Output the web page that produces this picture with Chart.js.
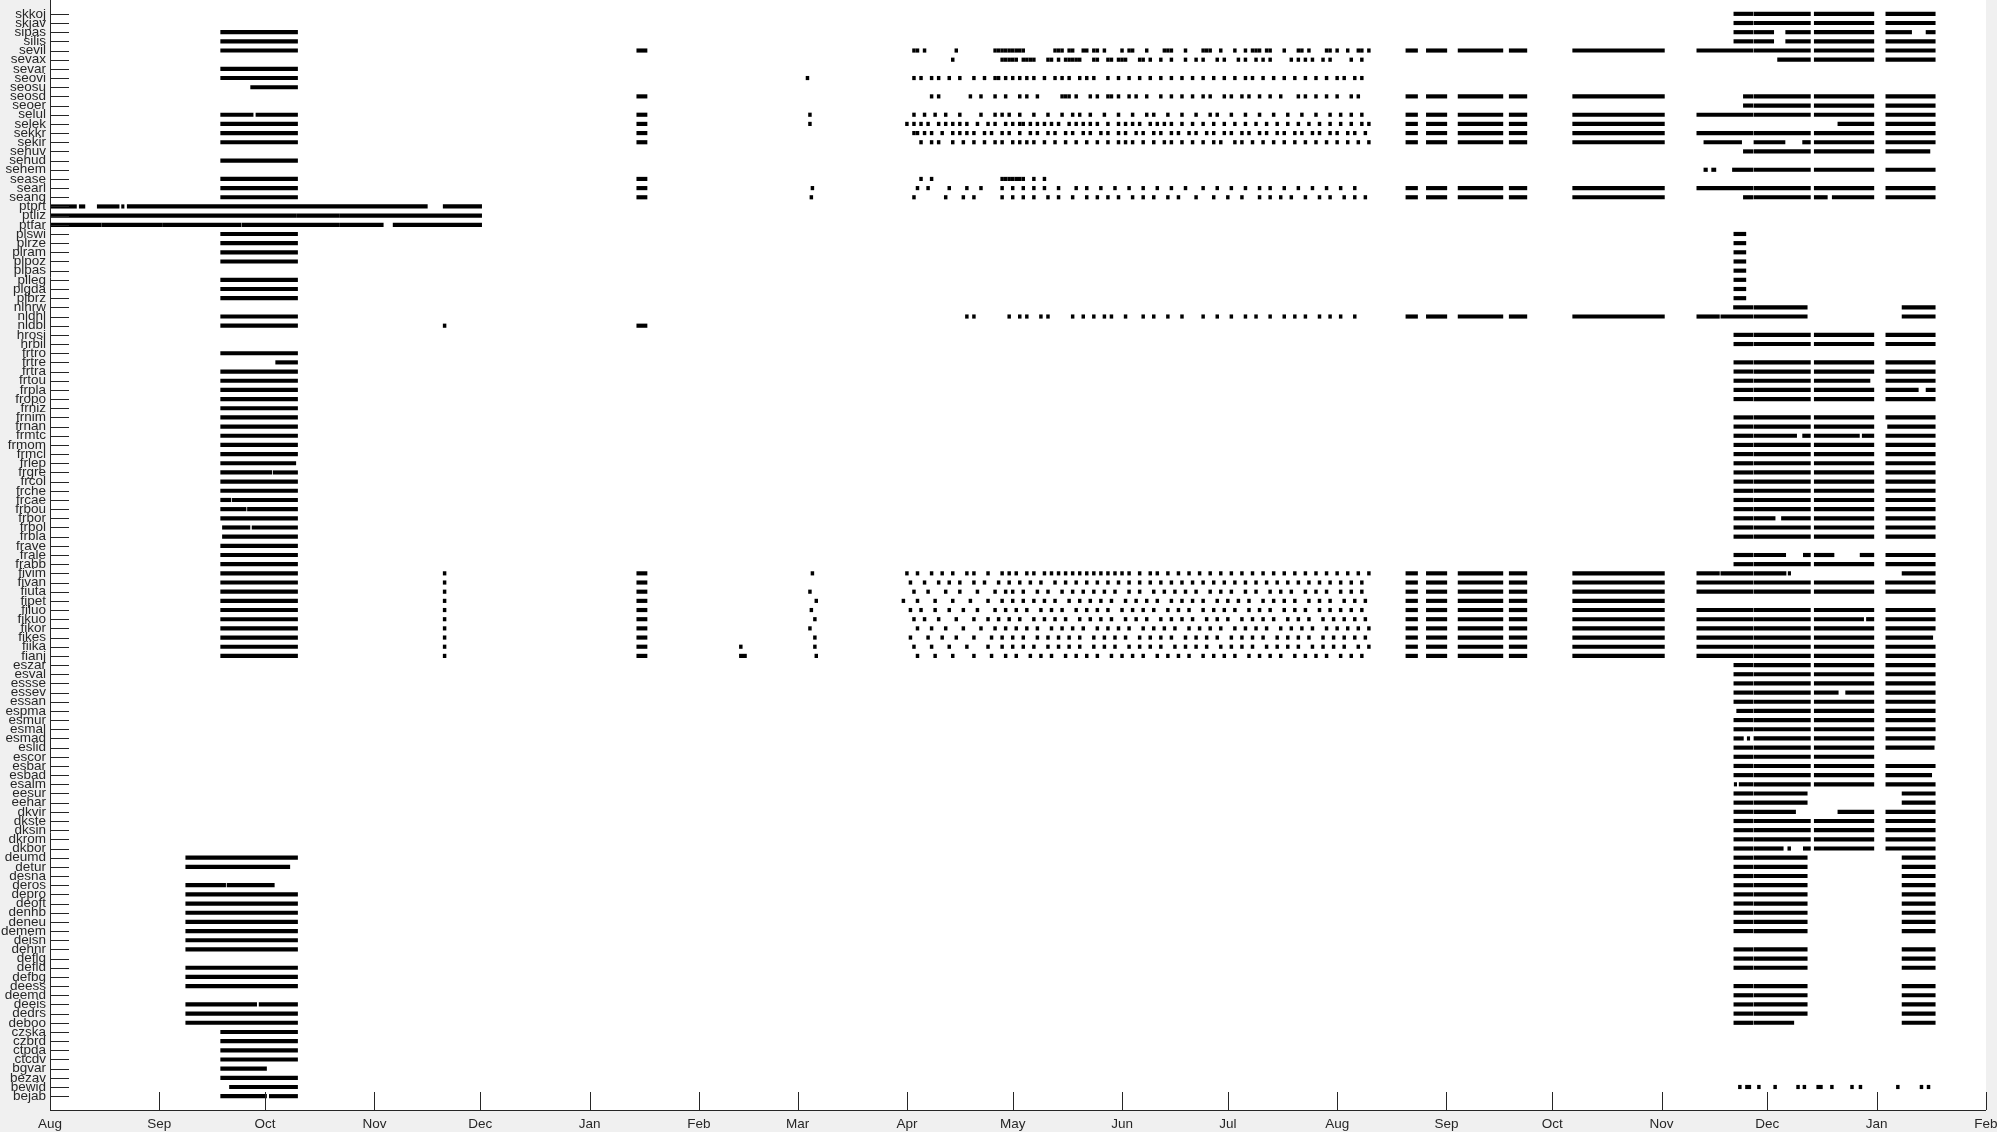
<!DOCTYPE html>
<html><head><meta charset="utf-8">
<script src="https://cdn.jsdelivr.net/npm/chart.js@4.4.1/dist/chart.umd.min.js"></script>
<style>html,body{margin:0;padding:0;background:#f0f0f0;overflow:hidden}canvas{display:block}</style>
</head><body>
<canvas id="c" width="1997" height="1132"></canvas>
<script>
// x values: days since 2016-08-01
const EPOCH = Date.UTC(2016, 7, 1);
const monthLabels = ['Aug','Sep','Oct','Nov','Dec','Jan','Feb','Mar','Apr','May','Jun','Jul','Aug','Sep','Oct','Nov','Dec','Jan','Feb'];
const monthStarts = ['2016-08-01','2016-09-01','2016-10-01','2016-11-01','2016-12-01','2017-01-01','2017-02-01','2017-03-01','2017-04-01','2017-05-01','2017-06-01','2017-07-01','2017-08-01','2017-09-01','2017-10-01','2017-11-01','2017-12-01','2018-01-01','2018-02-01'];

const stations = ['skkoj','skjav','sipas','silis','sevil','sevax','sevar','seovi','seosu','seosd','seoer','selul','selek','sekkr','sekir','sehuv','sehud','sehem','sease','searl','seang','ptprt','ptliz','ptfar','plswi','plrze','plram','plpoz','plpas','plleg','plgda','plbrz','nlhrw','nldhl','nldbl','hrosi','hrbil','frtro','frtre','frtra','frtou','frpla','fropo','frniz','frnim','frnan','frmtc','frmom','frmcl','frlep','frgre','frcol','frche','frcae','frbou','frbor','frbol','frbla','frave','frale','frabb','fivim','fivan','fiuta','fipet','filuo','fikuo','fikor','fikes','fiika','fianj','eszar','esval','essse','essev','essan','espma','esmur','esmal','esmad','eslid','escor','esbar','esbad','esalm','eesur','eehar','dkvir','dkste','dksin','dkrom','dkbor','deumd','detur','desna','deros','depro','deoft','denhb','deneu','demem','deisn','dehnr','deflg','defld','defbg','deess','deemd','deeis','dedrs','deboo','czska','czbrd','ctpda','ctcdv','bgvar','bezav','bewid','bejab'];

// [station, start, end, start, end, ...]
const portugal2016 = [
  ['ptprt', 0,7.5, 8.3,9.9, 13.4,19.6, 20.3,21.0, 21.9,107.0, 111.5,122.4],
  ['ptliz', 0,69.9, 70.1,82.1, 82.3,122.4],
  ['ptfar', 0,14.5, 14.7,31.9, 32.1,54.2, 54.5,82.1, 82.3,94.5, 97.3,122.4]
];

const autumn2016 = [
  ['sipas',48.4,70.2],['silis',48.4,70.2],['sevil',48.4,70.2],['sevar',48.4,70.2],['seovi',48.4,70.2],
  ['seosu',56.9,70.2],['selul',48.4,57.6,58.4,70.2],['selek',48.4,70.2],['sekkr',48.4,70.2],['sekir',48.4,70.2],
  ['sehud',48.4,70.2],['sease',48.4,70.2],['searl',48.4,70.2],['seang',48.4,70.2],
  ['plswi',48.4,70.2],['plrze',48.4,70.2],['plram',48.4,70.2],['plpoz',48.4,70.2],['plleg',48.4,70.2],['plgda',48.4,70.2],['plbrz',48.4,70.2],
  ['nldhl',48.4,70.2],['nldbl',48.4,70.2],
  ['frtro',48.4,70.2],['frtre',64.0,70.2],['frtra',48.4,70.2],['frtou',48.4,70.2],['frpla',48.4,70.2],['fropo',48.4,70.2],['frniz',48.4,70.2],
  ['frnim',48.4,70.2],['frnan',48.4,70.2],['frmtc',48.4,70.2],['frmom',48.4,70.2],['frmcl',48.4,70.2],['frlep',48.4,69.7],
  ['frgre',48.4,62.9,63.3,70.2],['frcol',48.4,70.2],['frche',48.4,70.2],['frcae',48.4,51.3,51.7,70.2],['frbou',48.4,55.6,56.0,70.2],
  ['frbor',48.4,70.2],['frbol',48.9,56.7,57.3,70.2],['frbla',48.9,70.2],['frave',48.4,70.2],['frale',48.4,70.2],['frabb',48.4,70.2],
  ['fivim',48.4,70.2],['fivan',48.4,70.2],['fiuta',48.4,70.2],['fipet',48.4,70.2],['filuo',48.4,70.2],['fikuo',48.4,70.2],
  ['fikor',48.4,70.2],['fikes',48.4,70.2],['fiika',48.4,70.2],['fianj',48.4,70.2],
  ['deumd',38.5,70.2],['detur',38.5,68.0],['deros',38.5,49.8,50.2,63.6],['depro',38.5,70.2],['deoft',38.5,70.2],['denhb',38.5,70.2],
  ['deneu',38.5,70.2],['demem',38.5,70.2],['deisn',38.5,70.2],['dehnr',38.5,70.2],['defld',38.5,70.2],['defbg',38.5,70.2],
  ['deess',38.5,70.2],['deeis',38.5,58.6,59.3,70.2],['dedrs',38.5,70.2],['deboo',38.5,70.2],
  ['czska',48.4,70.2],['czbrd',48.4,70.2],['ctpda',48.4,70.2],['ctcdv',48.4,70.2],['bgvar',48.4,61.4],['bezav',48.4,70.2],
  ['bewid',50.9,70.2],['bejab',48.4,61.4,62.2,70.2]
];

const winter2017 = [
  ['nldbl',111.5,112.3,166.4,169.3],
  ['sevil',166.4,169.3],['seosd',166.4,169.3],['selul',166.4,169.3,215.1,215.9],['selek',166.4,169.3,215.1,215.9],
  ['sekkr',166.4,169.3],['sekir',166.4,169.3],['sease',166.4,169.3],['searl',166.4,169.3,215.8,216.6],['seang',166.4,169.3,215.5,216.3],
  ['seovi',214.4,215.2],
  ['fivim',111.5,112.3,166.4,169.3,215.8,216.6],['fivan',111.5,112.3,166.4,169.3],['fiuta',111.5,112.3,166.4,169.3,215.1,215.9],
  ['fipet',111.5,112.3,166.4,169.3,216.9,217.7],['filuo',111.5,112.3,166.4,169.3,215.5,216.3],['fikuo',111.5,112.3,166.4,169.3,216.5,217.3],
  ['fikor',111.5,112.3,166.4,169.3,215.1,215.9],['fikes',111.5,112.3,166.4,169.3,216.5,217.3],['fiika',111.5,112.3,166.4,169.3,195.5,196.3,216.5,217.3],
  ['fianj',111.5,112.3,166.4,169.3,195.5,197.5,216.9,217.7]
];

// single days with data, spring/summer 2017 (days since 2016-08-01)
const summerDays = [
  ['sevil',245,246,248,257,268,269,270,271,272,273,274,275,276,285,286,287,289,290,293,294,296,297,299,304,306,307,311,316,317,318,322,327,328,329,332,336,339,341,342,343,345,346,350,354,355,357,362,363,365,368,371,372,374],
  ['sevax',256,270,271,272,273,274,276,277,278,279,283,284,286,288,289,290,291,292,296,297,300,301,303,304,305,309,310,312,315,318,322,325,327,331,333,337,339,342,344,346,352,354,356,358,361,363,369,372],
  ['seovi',245,247,250,252,255,258,262,265,268,269,271,273,275,277,279,282,285,287,289,292,294,296,300,303,306,309,312,315,318,321,324,327,330,333,336,339,341,344,347,350,353,356,359,362,365,367,370,372],
  ['seosd',250,252,261,264,268,271,275,277,280,287,288,289,291,295,297,300,301,303,306,308,311,315,318,321,324,327,329,333,335,338,340,343,346,349,354,356,359,362,365,369,371],
  ['selul',245,248,251,254,258,264,268,270,272,275,279,283,287,290,292,295,299,303,307,311,313,317,321,325,329,331,335,339,343,347,351,355,359,363,366,369,372],
  ['selek',243,245,247,249,252,254,256,258,260,263,266,268,271,273,275,276,278,280,282,284,286,289,291,293,295,297,300,303,305,307,309,312,314,316,318,321,324,327,330,333,336,339,342,345,348,351,354,357,360,363,366,369,372,374],
  ['sekkr',245,246,248,250,253,256,258,260,262,265,267,270,272,275,278,280,283,285,288,290,293,295,298,300,303,305,308,310,313,315,318,320,323,325,328,330,333,335,338,340,343,345,348,350,353,355,358,360,363,365,368,370,373],
  ['sekir',247,250,252,256,259,262,265,268,270,273,275,277,279,282,285,288,291,294,297,300,303,305,307,310,313,316,318,321,324,327,330,332,336,338,341,344,347,350,353,356,359,362,365,368,371,374],
  ['sease',247,250,270,271,272,273,274,275,276,279,282],
  ['searl',246,249,255,260,264,270,273,276,279,282,286,291,294,298,302,306,310,314,318,322,327,331,335,339,343,346,350,354,358,362,366,370],
  ['seang',245,254,259,262,270,273,276,279,283,286,290,294,297,300,303,307,310,313,317,320,325,330,334,338,343,346,349,352,356,360,363,367,370,373],
  ['nldhl',260,262,272,275,277,281,283,290,293,296,299,301,305,310,313,317,321,327,331,335,339,342,346,350,353,356,360,363,366,370],
  ['fivim',243,246,250,253,256,260,262,266,270,272,274,277,279,282,284,286,288,290,292,294,296,298,300,302,304,306,309,312,314,317,320,323,326,329,332,335,338,341,344,347,350,353,356,359,362,365,368,371,374],
  ['fivan',244,248,252,255,258,262,265,269,272,275,278,281,285,288,291,294,297,300,303,306,309,312,315,318,321,324,327,330,333,336,339,342,345,348,351,354,357,360,363,366,369,372],
  ['fiuta',245,249,254,258,263,268,271,273,276,280,283,287,290,293,296,299,302,306,309,313,316,319,322,325,329,332,335,339,342,346,349,352,356,359,362,366,369,372],
  ['fipet',242,246,251,256,261,266,270,273,276,279,282,285,289,292,295,298,301,305,308,311,314,318,321,324,327,331,334,337,340,344,347,350,353,357,360,363,367,370,373],
  ['filuo',244,247,251,255,259,263,268,271,274,277,281,284,287,291,294,297,300,304,307,310,313,317,320,323,327,330,333,336,340,343,346,350,353,356,360,363,366,369,372],
  ['fikuo',245,248,252,257,262,266,269,272,275,279,282,285,288,292,295,298,301,305,308,311,315,318,321,324,328,331,334,338,341,344,347,351,354,357,361,364,367,370,373],
  ['fikor',246,250,254,259,264,268,271,274,277,280,284,287,290,293,297,300,303,306,310,313,316,319,323,326,329,332,336,339,342,345,349,352,355,358,362,365,368,371,374],
  ['fikes',244,249,253,257,262,267,270,273,276,280,283,286,289,292,296,299,302,305,309,312,315,318,322,325,328,331,335,338,341,344,348,351,354,357,361,364,367,370,373],
  ['fiika',245,250,255,260,266,270,273,276,279,283,286,289,292,296,299,302,306,309,312,315,319,322,325,328,332,335,338,341,345,348,351,354,358,361,364,367,371,374],
  ['fianj',246,251,256,262,267,271,274,278,281,284,288,291,294,297,301,304,307,310,314,317,320,323,327,330,333,336,340,343,346,349,353,356,359,362,366,369,372]
];

const autumn2017 = [
  ['sevil',384.5,387.8,390.3,396.1,399.3,412.0,413.8,418.8,431.8,457.8],
  ['seosd',384.5,387.8,390.3,396.1,399.3,412.0,413.8,418.8,431.8,457.8],
  ['selul',384.5,387.8,390.3,396.1,399.3,412.0,413.8,418.8,431.8,457.8],
  ['selek',384.5,387.8,390.3,396.1,399.3,412.0,413.8,418.8,431.8,457.8],
  ['sekkr',384.5,387.8,390.3,396.1,399.3,412.0,413.8,418.8,431.8,457.8],
  ['sekir',384.5,387.8,390.3,396.1,399.3,412.0,413.8,418.8,431.8,457.8],
  ['searl',384.5,387.8,390.3,396.1,399.3,412.0,413.8,418.8,431.8,457.8],
  ['seang',384.5,387.8,390.3,396.1,399.3,412.0,413.8,418.8,431.8,457.8],
  ['nldhl',384.5,387.8,390.3,396.1,399.3,412.0,413.8,418.8,431.8,457.8],
  ['fivim',384.5,387.8,390.3,396.1,399.3,412.0,413.8,418.8,431.8,457.8],
  ['fivan',384.5,387.8,390.3,396.1,399.3,412.0,413.8,418.8,431.8,457.8],
  ['fiuta',384.5,387.8,390.3,396.1,399.3,412.0,413.8,418.8,431.8,457.8],
  ['fipet',384.5,387.8,390.3,396.1,399.3,412.0,413.8,418.8,431.8,457.8],
  ['filuo',384.5,387.8,390.3,396.1,399.3,412.0,413.8,418.8,431.8,457.8],
  ['fikuo',384.5,387.8,390.3,396.1,399.3,412.0,413.8,418.8,431.8,457.8],
  ['fikor',384.5,387.8,390.3,396.1,399.3,412.0,413.8,418.8,431.8,457.8],
  ['fikes',384.5,387.8,390.3,396.1,399.3,412.0,413.8,418.8,431.8,457.8],
  ['fiika',384.5,387.8,390.3,396.1,399.3,412.0,413.8,418.8,431.8,457.8],
  ['fianj',384.5,387.8,390.3,396.1,399.3,412.0,413.8,418.8,431.8,457.8]
];

const winter2018 = [
  ['skkoj',477.5,482.9,483.2,499.2,500.3,517.2,520.6,534.6],
  ['skjav',477.5,482.9,483.2,499.2,500.3,517.2,520.6,534.6],
  ['sipas',477.5,482.9,483.2,488.8,492.2,499.2,500.3,517.2,520.6,527.9,532.0,534.6],
  ['silis',477.5,482.9,483.2,488.8,492.2,499.2,500.3,517.2,520.6,534.6],
  ['sevil',467.0,482.9,483.2,499.2,500.3,517.2,520.6,534.6],
  ['sevax',489.9,499.2,500.3,517.2,520.6,534.6],
  ['seosd',480.2,482.9,483.2,499.2,500.3,517.2,520.6,534.6],
  ['seoer',480.2,482.9,483.2,499.2,500.3,517.2,520.6,534.6],
  ['selul',467.0,482.9,483.2,499.2,500.3,517.2,520.6,534.6],
  ['selek',507.0,517.2,520.6,534.6],
  ['sekkr',467.0,482.9,483.2,499.2,500.3,517.2,520.6,534.6],
  ['sekir',469.0,479.7,483.2,492.0,497.0,499.2,500.3,517.2,520.6,534.6],
  ['sehuv',480.2,482.9,483.2,499.2,500.3,517.2,520.6,533.1],
  ['sehem',469.0,470.0,471.2,472.4,477.1,482.9,483.2,499.2,500.3,517.2,520.6,534.6],
  ['searl',467.0,482.9,483.2,499.2,500.3,517.2,520.6,534.6],
  ['seang',480.2,482.9,483.2,499.2,500.3,504.0,505.4,517.2,520.6,534.6],
  ['plswi',477.5,480.9],['plrze',477.5,480.9],['plram',477.5,480.9],['plpoz',477.5,480.9],
  ['plpas',477.5,480.9],['plleg',477.5,480.9],['plgda',477.5,480.9],['plbrz',477.5,480.9],
  ['nlhrw',477.4,482.9,483.2,498.3,525.2,534.6],
  ['nldhl',467.0,473.4,473.8,482.9,483.2,498.3,525.2,534.6],
  ['hrosi',477.5,482.9,483.2,499.2,500.3,517.2,520.6,534.6],
  ['hrbil',477.5,482.9,483.2,499.2,500.3,517.2,520.6,534.6],
  ['frtre',477.5,482.9,483.2,499.2,500.3,517.2,520.6,534.6],
  ['frtra',477.5,482.9,483.2,499.2,500.3,517.2,520.6,534.6],
  ['frtou',477.5,482.9,483.2,499.2,500.3,516.1,520.6,534.6],
  ['frpla',477.5,482.9,483.2,499.2,500.3,517.2,520.6,529.8,532.0,534.6],
  ['fropo',477.5,482.9,483.2,499.2,500.3,517.2,520.6,534.6],
  ['frnim',477.5,482.9,483.2,499.2,500.3,517.2,520.6,534.6],
  ['frnan',477.5,482.9,483.2,499.2,500.3,517.2,521.1,534.6],
  ['frmtc',477.5,482.9,483.2,495.3,497.0,499.2,500.3,513.1,513.9,517.2,520.6,534.6],
  ['frmom',477.5,482.9,483.2,499.2,500.3,517.2,520.6,534.6],
  ['frmcl',477.5,482.9,483.2,499.2,500.3,517.2,520.6,534.6],
  ['frlep',477.5,482.9,483.2,499.2,500.3,517.2,520.6,534.6],
  ['frgre',477.5,482.9,483.2,499.2,500.3,517.2,520.6,534.6],
  ['frcol',477.5,482.9,483.2,499.2,500.3,517.2,520.6,534.6],
  ['frche',477.5,482.9,483.2,499.2,500.3,517.2,520.6,534.6],
  ['frcae',477.5,482.9,483.2,499.2,500.3,517.2,520.6,534.6],
  ['frbou',477.5,482.9,483.2,499.2,500.3,517.2,520.6,534.6],
  ['frbor',477.5,482.9,483.2,489.2,491.0,499.2,500.3,517.2,520.6,534.6],
  ['frbol',477.5,482.9,483.2,499.2,500.3,517.2,520.6,534.6],
  ['frbla',477.5,482.9,483.2,499.2,500.3,517.2,520.6,534.6],
  ['frale',477.5,482.9,483.2,492.2,497.2,499.2,500.3,505.9,513.3,517.2,520.6,534.6],
  ['frabb',477.5,482.9,483.2,499.2,500.3,517.2,520.6,534.6],
  ['fivim',467.0,473.4,473.8,482.9,483.2,492.3,492.9,493.6,525.2,534.6],
  ['fivan',467.0,482.9,483.2,499.2,500.3,517.2,520.5,534.6],
  ['fiuta',467.0,482.9,483.2,499.2,500.3,517.2,520.6,534.6],
  ['filuo',467.0,482.9,483.2,499.2,500.3,517.2,520.6,534.6],
  ['fikuo',467.0,482.9,483.2,499.2,500.3,514.3,515.1,517.2,520.6,534.6],
  ['fikor',467.0,482.9,483.2,499.2,500.3,517.2,520.6,534.6],
  ['fikes',467.0,482.9,483.2,499.2,500.3,517.2,520.6,533.9],
  ['fiika',467.0,482.9,483.2,499.2,500.3,517.2,520.6,534.6],
  ['fianj',467.0,482.9,483.2,499.2,500.3,517.2,520.6,534.6],
  ['eszar',477.5,482.9,483.2,499.2,500.3,517.2,520.6,534.6],
  ['esval',477.5,482.9,483.2,499.2,500.3,517.2,520.6,534.6],
  ['essse',477.5,482.9,483.2,499.2,500.3,517.2,520.6,534.6],
  ['essev',477.5,482.9,483.2,499.2,500.3,507.1,509.2,517.2,520.6,534.6],
  ['essan',477.5,482.9,483.2,499.2,500.3,517.2,520.6,534.6],
  ['espma',478.3,482.9,483.2,499.2,500.3,517.2,520.6,534.6],
  ['esmur',477.5,482.9,483.2,499.2,500.3,517.2,520.6,534.6],
  ['esmal',477.5,482.9,483.2,499.2,500.3,517.2,520.6,534.6],
  ['esmad',477.5,480.2,481.3,482.0,483.2,499.2,500.3,517.2,520.6,534.6],
  ['eslid',477.5,482.9,483.2,499.2,500.3,517.2,520.6,534.3],
  ['escor',477.5,482.9,483.2,499.2,500.3,517.2],
  ['esbar',477.5,482.9,483.2,499.2,500.3,517.2,520.6,534.6],
  ['esbad',477.5,482.9,483.2,499.2,500.3,517.2,520.6,533.6],
  ['esalm',477.6,478.3,479.0,482.9,483.2,499.2,500.3,517.2,520.6,534.6],
  ['eesur',477.5,482.9,483.2,498.3,525.2,534.6],
  ['eehar',477.5,482.9,483.2,498.3,525.2,534.6],
  ['dkvir',477.5,482.9,483.2,495.0,507.0,517.2,520.6,534.6],
  ['dkste',477.5,482.9,483.2,499.2,500.3,517.2,520.6,534.6],
  ['dksin',477.5,482.9,483.2,499.2,500.3,517.2,520.6,534.6],
  ['dkrom',477.5,482.9,483.2,499.2,500.3,517.2,520.6,534.6],
  ['dkbor',477.5,482.9,483.2,491.5,492.8,493.6,497.2,499.2,500.3,517.2,520.6,534.6],
  ['deumd',477.5,482.9,483.2,498.3,525.2,534.6],['detur',477.5,482.9,483.2,498.3,525.2,534.6],
  ['desna',477.5,482.9,483.2,498.3,525.2,534.6],['deros',477.5,482.9,483.2,498.3,525.2,534.6],
  ['depro',477.5,482.9,483.2,498.3,525.2,534.6],['deoft',477.5,482.9,483.2,498.3,525.2,534.6],
  ['denhb',477.5,482.9,483.2,498.3,525.2,534.6],['deneu',477.5,482.9,483.2,498.3,525.2,534.6],
  ['demem',477.5,482.9,483.2,498.3,525.2,534.6],['dehnr',477.5,482.9,483.2,498.3,525.2,534.6],
  ['deflg',477.5,482.9,483.2,498.3,525.2,534.6],['defld',477.5,482.9,483.2,498.3,525.2,534.6],
  ['deess',477.5,482.9,483.2,498.3,525.2,534.6],['deemd',477.5,482.9,483.2,498.3,525.2,534.6],
  ['deeis',477.5,482.9,483.2,498.3,525.2,534.6],['dedrs',477.5,482.9,483.2,498.3,525.2,534.6],
  ['deboo',477.5,482.9,483.2,494.5,525.2,534.6],
  ['bewid',478.8,479.6,480.8,482.3,484.2,485.0,488.8,489.6,495.3,496.1,497.1,497.9,501.0,502.6,504.9,505.7,510.6,511.4,513.0,513.8,523.6,524.4,530.3,531.1,532.3,533.1]
];

const toDay = s => (Date.parse(s + 'T00:00:00Z') - EPOCH) / 864e5;
const rowOf = name => stations.indexOf(name) + 1;

const bars = [];
for (const list of [portugal2016, autumn2016, winter2017, autumn2017, winter2018]) {
  for (const [name, ...v] of list) {
    for (let i = 0; i < v.length; i += 2) bars.push({ x: [v[i], v[i + 1]], y: rowOf(name) });
  }
}
for (const [name, ...days] of summerDays) {
  for (const d of days) bars.push({ x: [d - 0.4, d + 0.4], y: rowOf(name) });
}

const INK = '#262626';
const FONT = 'Liberation Sans, Arial, Helvetica, sans-serif';
const frame = {
  id: 'frame',
  beforeDraw(c) {
    const ctx = c.ctx, a = c.chartArea;
    ctx.save();
    ctx.fillStyle = '#f0f0f0'; ctx.fillRect(0, 0, c.width, c.height);
    ctx.fillStyle = '#ffffff'; ctx.fillRect(a.left, a.top, a.right - a.left, a.bottom - a.top);
    ctx.restore();
  },
  afterDraw(c) {
    const ctx = c.ctx, a = c.chartArea, xs = c.scales.x, ys = c.scales.y;
    ctx.save();
    ctx.strokeStyle = INK; ctx.lineWidth = 1;
    ctx.beginPath();
    ys.ticks.forEach(t => { const y = Math.round(ys.getPixelForValue(t.value)) + 0.5; ctx.moveTo(a.left, y); ctx.lineTo(a.left + 19, y); });
    xs.ticks.forEach(t => { const x = Math.round(xs.getPixelForValue(t.value)) + 0.5; ctx.moveTo(x, a.bottom); ctx.lineTo(x, a.bottom - 18); });
    ctx.moveTo(Math.round(a.left) + 0.5, a.top); ctx.lineTo(Math.round(a.left) + 0.5, a.bottom);
    ctx.moveTo(a.left, Math.round(a.bottom) + 0.5); ctx.lineTo(a.right, Math.round(a.bottom) + 0.5);
    ctx.stroke();
    ctx.restore();
  }
};

new Chart(document.getElementById('c'), {
  type: 'bar',
  data: { datasets: [{ data: bars, backgroundColor: '#000000', borderWidth: 0, barThickness: 3.5, borderSkipped: false }] },
  options: {
    responsive: false, animation: false, indexAxis: 'y', devicePixelRatio: 1,
    layout: { padding: { left: 0, right: 11, top: 0, bottom: 0 }, autoPadding: false },
    plugins: { legend: { display: false }, tooltip: { enabled: false } },
    scales: {
      x: {
        type: 'linear', position: 'bottom', min: 0, max: toDay(monthStarts[monthStarts.length - 1]),
        afterBuildTicks: s => { s.ticks = monthStarts.map(d => ({ value: toDay(d) })); },
        afterFit: s => { s.height = 22; s.paddingLeft = 0; s.paddingRight = 0; s.paddingTop = 0; s.paddingBottom = 0; },
        grid: { display: false, drawTicks: false }, border: { display: false },
        ticks: { autoSkip: false, maxRotation: 0, padding: 6, color: INK, font: { family: FONT, size: 13.5 },
          callback: (v, i) => monthLabels[i] }
      },
      y: {
        type: 'linear', position: 'left', min: 0, max: 120, reverse: true,
        afterBuildTicks: s => { s.ticks = stations.map((_, i) => ({ value: i + 1 })); },
        afterFit: s => { s.width = 50; s.paddingTop = 0; s.paddingBottom = 0; s.paddingLeft = 0; s.paddingRight = 0; },
        grid: { display: false, drawTicks: false }, border: { display: false },
        ticks: { autoSkip: false, padding: 4, color: INK, font: { family: FONT, size: 13.5 },
          callback: (v, i) => stations[i] }
      }
    }
  },
  plugins: [frame]
});
</script>
</body></html>
